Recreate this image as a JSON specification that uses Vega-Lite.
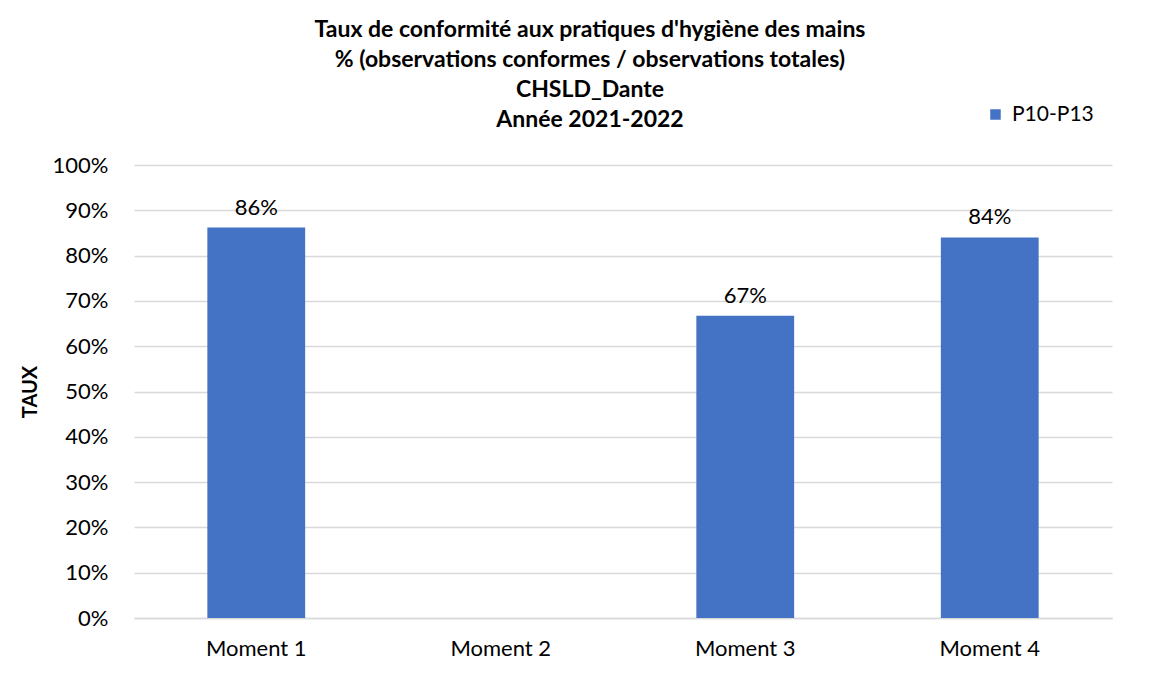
{
  "$schema": "https://vega.github.io/schema/vega-lite/v6.json",
  "width": 978,
  "height": 453,
  "autosize": {"type": "none"},
  "padding": {"left": 134, "top": 165, "right": 42, "bottom": 66},
  "background": "white",
  "config": {"view": {"stroke": null}},
  "title": {
    "text": ["Taux de conformité aux pratiques d'hygiène des mains", "% (observations conformes / observations totales)", "CHSLD_Dante", "Année 2021-2022"],
    "font": "Lato",
    "fontSize": 23,
    "fontWeight": "bold",
    "lineHeight": 30,
    "color": "#000000",
    "anchor": "middle",
    "dx": -33,
    "dy": 58,
    "offset": 30
  },
  "data": {
    "values": [
      {"moment": "Moment 1", "taux": 0.862, "serie": "P10-P13"},
      {"moment": "Moment 2", "taux": null, "serie": "P10-P13"},
      {"moment": "Moment 3", "taux": 0.667, "serie": "P10-P13"},
      {"moment": "Moment 4", "taux": 0.84, "serie": "P10-P13"}
    ]
  },
  "encoding": {
    "x": {
      "field": "moment",
      "type": "nominal",
      "scale": {"domain": ["Moment 1", "Moment 2", "Moment 3", "Moment 4"], "paddingInner": 0.6, "paddingOuter": 0.3},
      "axis": {"title": null, "labelAngle": 0, "ticks": false, "domainColor": "#D9D9D9", "domainWidth": 1.5, "labelPadding": 20, "labelFont": "Lato", "labelFontSize": 22, "labelColor": "#000000"}
    },
    "y": {
      "field": "taux",
      "type": "quantitative",
      "scale": {"domain": [0, 1]},
      "axis": {"title": "TAUX", "titleFont": "Lato", "titleFontSize": 20, "titleFontWeight": "bold", "titleColor": "#000000", "titlePadding": 12, "format": ".0%", "values": [0, 0.1, 0.2, 0.3, 0.4, 0.5, 0.6, 0.7, 0.8, 0.9, 1], "domain": false, "ticks": false, "gridColor": "#D9D9D9", "gridWidth": 1.3, "labelPadding": 26, "labelFont": "Lato", "labelFontSize": 22, "labelColor": "#000000"}
    }
  },
  "layer": [
    {
      "mark": {"type": "bar", "color": "#4472C4"},
      "encoding": {
        "color": {
          "field": "serie",
          "type": "nominal",
          "scale": {"range": ["#4472C4"]},
          "legend": {"title": null, "orient": "none", "legendX": 851, "legendY": -61, "symbolType": "square", "symbolSize": 110, "symbolStrokeWidth": 0, "labelFont": "Lato", "labelFontSize": 21, "labelOffset": 6, "labelColor": "#000000", "padding": 0}
        }
      }
    },
    {
      "mark": {"type": "text", "baseline": "bottom", "dy": -8, "font": "Lato", "fontSize": 22, "color": "#000000"},
      "encoding": {"text": {"field": "taux", "type": "quantitative", "format": ".0%"}}
    }
  ]
}
